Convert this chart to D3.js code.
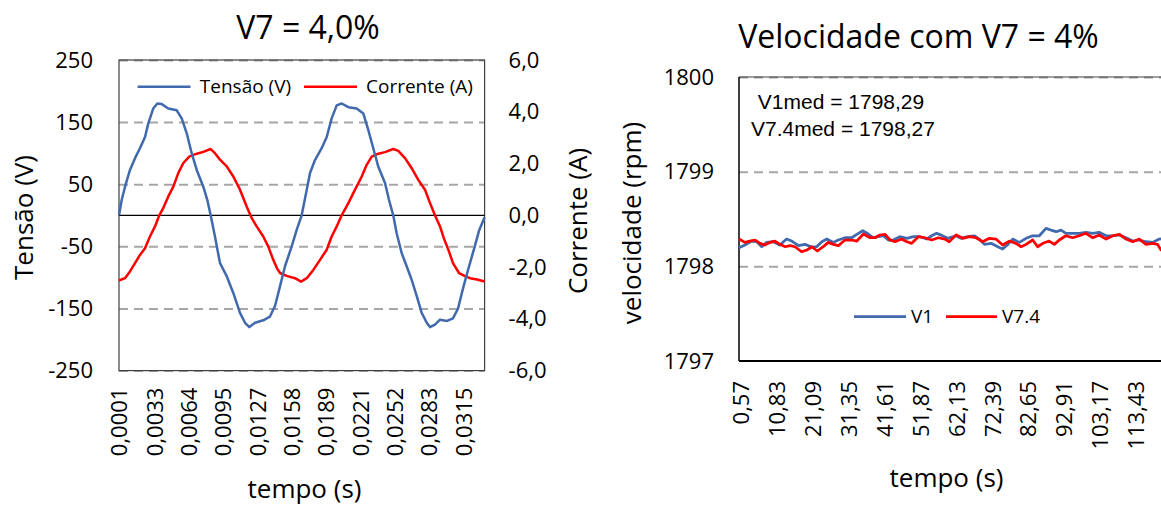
<!DOCTYPE html>
<html><head><meta charset="utf-8">
<script src="https://cdn.jsdelivr.net/npm/d3@7"></script>
<style>body{margin:0;background:#fff;overflow:hidden}svg{display:block;font-family:"Open Sans",sans-serif}</style>
</head><body>
<script>
// ---------- Left chart data (V7 = 4,0%) ----------
const tTensao = [0.00010,0.00035,0.00065,0.00110,0.00156,0.00201,0.00247,0.00277,0.00322,0.00359,0.00399,0.00459,0.00536,0.00581,0.00627,0.00672,0.00718,0.00778,0.00814,0.00845,0.00884,0.00930,0.00991,0.01051,0.01112,0.01158,0.01197,0.01249,0.01324,0.01385,0.01431,0.01477,0.01522,0.01583,0.01629,0.01674,0.01720,0.01750,0.01795,0.01856,0.01902,0.01947,0.01993,0.02038,0.02099,0.02175,0.02235,0.02281,0.02326,0.02372,0.02433,0.02469,0.02508,0.02539,0.02585,0.02630,0.02676,0.02722,0.02767,0.02813,0.02843,0.02888,0.02934,0.02998,0.03052,0.03098,0.03143,0.03189,0.03244,0.03289,0.03340];
const tensao = [0,25,46,73,92,108,126,148,172,180,179,172,169,156,132,100,73,46,25,0,-34,-77,-98,-125,-157,-173,-180,-173,-169,-163,-146,-114,-82,-50,-23,0,41,68,89,108,126,156,177,180,174,172,164,137,108,78,52,25,0,-29,-61,-82,-104,-130,-157,-173,-180,-176,-168,-170,-166,-150,-118,-88,-54,-25,-3];
const tCorrente = [0.00010,0.00065,0.00110,0.00156,0.00201,0.00247,0.00292,0.00338,0.00377,0.00413,0.00459,0.00505,0.00550,0.00596,0.00650,0.00718,0.00778,0.00845,0.00884,0.00930,0.00991,0.01051,0.01112,0.01173,0.01219,0.01264,0.01324,0.01370,0.01415,0.01449,0.01477,0.01537,0.01613,0.01668,0.01720,0.01780,0.01841,0.01902,0.01947,0.01993,0.02038,0.02099,0.02160,0.02221,0.02266,0.02312,0.02372,0.02433,0.02508,0.02554,0.02615,0.02676,0.02736,0.02797,0.02843,0.02888,0.02934,0.02970,0.03016,0.03052,0.03107,0.03162,0.03207,0.03271,0.03340];
const corrente = [-2.52,-2.43,-2.17,-1.85,-1.53,-1.27,-0.82,-0.43,0,0.28,0.73,1.11,1.63,2.02,2.27,2.38,2.45,2.56,2.40,2.15,1.89,1.50,0.99,0.34,-0.11,-0.43,-0.82,-1.21,-1.72,-2.05,-2.23,-2.34,-2.43,-2.56,-2.43,-2.11,-1.72,-1.33,-0.82,-0.43,0,0.47,0.99,1.50,1.95,2.27,2.38,2.44,2.56,2.49,2.21,1.82,1.37,0.99,0.47,0,-0.43,-0.90,-1.40,-1.85,-2.23,-2.35,-2.43,-2.48,-2.56];
const tickTempoL = [0.0001,0.0033,0.0064,0.0095,0.0127,0.0158,0.0189,0.0221,0.0252,0.0283,0.0315];
const tickTensao = [-250,-150,-50,50,150,250];
const tickCorrente = [-6,-4,-2,0,2,4,6];

// ---------- Right chart data (Velocidade) ----------
const tV1 = [0.0,1.7,3.6,5.1,6.5,7.9,9.8,11.7,13.6,15.1,17.0,18.9,20.8,22.2,23.7,25.1,27.0,28.4,30.3,32.2,33.7,35.4,37.0,38.4,39.8,41.3,42.7,44.1,46.0,48.0,49.9,51.8,53.7,55.1,56.5,58.0,59.7,62.1,63.5,65.4,67.3,68.7,70.2,72.1,74.0,75.4,76.9,78.3,80.2,82.1,84.0,85.9,87.8,89.2,90.7,92.1,93.5,95.4,97.3,99.2,101.2,103.0,105.0,106.9,108.8,110.7,112.6,114.5,116.4,118.3,120.2,122.1];
const v1 = [1798.196,1798.225,1798.267,1798.260,1798.207,1798.253,1798.260,1798.225,1798.288,1798.267,1798.218,1798.232,1798.204,1798.207,1798.260,1798.288,1798.253,1798.278,1798.302,1798.302,1798.338,1798.376,1798.341,1798.302,1798.313,1798.323,1798.278,1798.278,1798.313,1798.296,1798.313,1798.313,1798.288,1798.323,1798.349,1798.327,1798.296,1798.323,1798.296,1798.313,1798.323,1798.288,1798.232,1798.243,1798.207,1798.183,1798.232,1798.288,1798.253,1798.296,1798.323,1798.323,1798.401,1798.383,1798.366,1798.383,1798.349,1798.349,1798.349,1798.359,1798.349,1798.359,1798.323,1798.323,1798.331,1798.302,1798.267,1798.278,1798.260,1798.253,1798.288,1798.300];
const tV74 = [0.0,1.7,3.1,4.6,6.0,7.4,8.9,10.3,11.7,13.2,14.6,16.0,17.9,19.4,20.8,22.4,24.1,25.5,27.0,28.4,30.3,32.2,33.7,35.6,37.5,38.9,40.3,41.8,43.2,44.6,46.5,48.0,49.4,51.3,53.2,55.1,57.0,58.9,60.1,62.1,64.0,65.9,67.8,69.7,71.6,73.5,75.4,77.3,79.2,80.7,82.1,84.0,85.4,86.9,88.7,90.2,91.6,93.5,95.4,97.3,99.2,101.2,103.0,105.0,106.9,108.8,110.7,112.6,114.5,116.4,118.3,119.7,120.7,122.1];
const v74 = [1798.288,1798.253,1798.267,1798.278,1798.243,1798.225,1798.253,1798.267,1798.232,1798.207,1798.218,1798.207,1798.154,1798.172,1798.207,1798.162,1798.207,1798.253,1798.232,1798.218,1798.278,1798.278,1798.267,1798.341,1798.302,1798.302,1798.331,1798.338,1798.278,1798.260,1798.288,1798.260,1798.243,1798.313,1798.302,1798.278,1798.302,1798.288,1798.260,1798.331,1798.296,1798.313,1798.302,1798.260,1798.296,1798.288,1798.225,1798.267,1798.243,1798.207,1798.232,1798.278,1798.207,1798.243,1798.267,1798.232,1798.278,1798.323,1798.302,1798.323,1798.349,1798.302,1798.331,1798.288,1798.323,1798.338,1798.288,1798.260,1798.288,1798.232,1798.243,1798.232,1798.172,1798.150];
const tickTempoR = [0.57,10.83,21.09,31.35,41.61,51.87,62.13,72.39,82.65,92.91,103.17,113.43];
const tickVel = [1797,1798,1799,1800];

const BLUE = "#4169ae", RED = "#ff0000", GRID = "#a6a6a6";
const fmtComma = d => String(d).replace('.', ',');

const svg = d3.select("body").append("svg").attr("width", 1161).attr("height", 506);
svg.append("rect").attr("width",1161).attr("height",506).attr("fill","#fff");

// ================= LEFT CHART =================
const L = {x0:119, x1:484.6, y0:60, y1:370.6};
const xL = d3.scaleLinear().domain([0.0001, 0.0334]).range([L.x0, L.x1]);
const yV = d3.scaleLinear().domain([-250, 250]).range([L.y1, L.y0]);
const yI = d3.scaleLinear().domain([-6, 6]).range([L.y1, L.y0]);

const gL = svg.append("g");
gL.append("g").attr("transform", `translate(${L.x0},0)`)
  .call(d3.axisLeft(yV).tickValues(tickTensao).tickSize(-(L.x1-L.x0)).tickFormat(""))
  .call(g => g.select(".domain").remove())
  .call(g => g.selectAll("line").attr("stroke", GRID).attr("stroke-width", 2).attr("stroke-dasharray", "9,6"));
gL.append("rect").attr("x", L.x0).attr("y", L.y0).attr("width", L.x1-L.x0).attr("height", L.y1-L.y0)
  .attr("fill","none").attr("stroke","#404040").attr("stroke-width",1.2);
gL.append("line").attr("x1", L.x0).attr("x2", L.x1).attr("y1", yV(0)).attr("y2", yV(0)).attr("stroke","#000").attr("stroke-width",1.2);

gL.append("g").attr("transform", `translate(${L.x0},0)`)
  .call(d3.axisLeft(yV).tickValues(tickTensao).tickSize(0).tickPadding(26).tickFormat(d => String(d)))
  .call(g => g.select(".domain").remove())
  .call(g => g.selectAll("text").attr("font-size", 22).attr("fill","#000").attr("font-family","Open Sans"));
gL.append("g").attr("transform", `translate(${L.x1},0)`)
  .call(d3.axisRight(yI).tickValues(tickCorrente).tickSize(0).tickPadding(24).tickFormat(d => d.toFixed(1).replace('.', ',')))
  .call(g => g.select(".domain").remove())
  .call(g => g.selectAll("text").attr("font-size", 22).attr("fill","#000").attr("font-family","Open Sans"));
gL.append("g").attr("transform", `translate(0,${L.y1})`)
  .call(d3.axisBottom(xL).tickValues(tickTempoL).tickSize(0).tickFormat(fmtComma))
  .call(g => g.select(".domain").remove())
  .call(g => g.selectAll("text").attr("font-size", 22).attr("fill","#000").attr("font-family","Open Sans")
     .attr("transform","rotate(-90)").attr("text-anchor","end").attr("x",-17).attr("y",0).attr("dy","0.36em"));

const lineV = d3.line().x((d,i) => xL(tTensao[i])).y(d => yV(d));
const lineI = d3.line().x((d,i) => xL(tCorrente[i])).y(d => yI(d));
gL.append("path").datum(corrente).attr("d", lineI).attr("fill","none").attr("stroke",RED).attr("stroke-width",2.5).attr("stroke-linejoin","round");
gL.append("path").datum(tensao).attr("d", lineV).attr("fill","none").attr("stroke",BLUE).attr("stroke-width",2.5).attr("stroke-linejoin","round");

const legL = gL.append("g").attr("font-size",19).attr("font-family","Open Sans");
legL.append("line").attr("x1",137.6).attr("x2",190.5).attr("y1",86.7).attr("y2",86.7).attr("stroke",BLUE).attr("stroke-width",2.5);
legL.append("text").attr("x",199.8).attr("y",86.7).attr("dy","0.35em").text("Tensão (V)");
legL.append("line").attr("x1",304).attr("x2",357).attr("y1",86.7).attr("y2",86.7).attr("stroke",RED).attr("stroke-width",2.5);
legL.append("text").attr("x",366).attr("y",86.7).attr("dy","0.35em").text("Corrente (A)");

gL.append("text").attr("x",308).attr("y",38.5).attr("text-anchor","middle").attr("font-size",32).text("V7 = 4,0%");
gL.append("text").attr("x",304.5).attr("y",498).attr("text-anchor","middle").attr("font-size",26).text("tempo (s)");
gL.append("text").attr("transform","translate(33,217.5) rotate(-90)").attr("text-anchor","middle").attr("font-size",26).text("Tensão (V)");
gL.append("text").attr("transform","translate(587,221) rotate(-90)").attr("text-anchor","middle").attr("font-size",26).text("Corrente (A)");

// ================= RIGHT CHART =================
const R = {x0:739, x1:1175, y0:77, y1:361};
const xR = d3.scaleLinear().domain([0, (R.x1-R.x0)/3.4964]).range([R.x0, R.x1]);
const yR = d3.scaleLinear().domain([1797, 1800]).range([R.y1, R.y0]);
const gR = svg.append("g");
gR.append("g").attr("transform", `translate(${R.x0},0)`)
  .call(d3.axisLeft(yR).tickValues([1798,1799,1800]).tickSize(-(R.x1-R.x0)).tickFormat(""))
  .call(g => g.select(".domain").remove())
  .call(g => g.selectAll("line").attr("stroke", GRID).attr("stroke-width", 2).attr("stroke-dasharray", "9,6"));
gR.append("line").attr("x1",R.x0).attr("x2",R.x1).attr("y1",R.y0).attr("y2",R.y0).attr("stroke","#404040").attr("stroke-width",1);
gR.append("line").attr("x1",R.x0).attr("x2",R.x0).attr("y1",R.y0).attr("y2",R.y1).attr("stroke","#000").attr("stroke-width",1.5);
gR.append("line").attr("x1",R.x0).attr("x2",R.x1).attr("y1",R.y1).attr("y2",R.y1).attr("stroke","#000").attr("stroke-width",2);

gR.append("g").attr("transform", `translate(${R.x0},0)`)
  .call(d3.axisLeft(yR).tickValues(tickVel).tickSize(0).tickPadding(25).tickFormat(d => String(d)))
  .call(g => g.select(".domain").remove())
  .call(g => g.selectAll("text").attr("font-size", 22).attr("fill","#000").attr("font-family","Open Sans"));
gR.append("g").attr("transform", `translate(0,${R.y1})`)
  .call(d3.axisBottom(xR).tickValues(tickTempoR).tickSize(0).tickFormat(d => d.toFixed(2).replace('.', ',')))
  .call(g => g.select(".domain").remove())
  .call(g => g.selectAll("text").attr("font-size", 22).attr("fill","#000").attr("font-family","Open Sans")
     .attr("transform","rotate(-90)").attr("text-anchor","end").attr("x",-20).attr("y",0).attr("dy","0.36em"));

const line1 = d3.line().x((d,i) => xR(tV1[i])).y(d => yR(d));
const line74 = d3.line().x((d,i) => xR(tV74[i])).y(d => yR(d));
gR.append("path").datum(v1).attr("d", line1).attr("fill","none").attr("stroke",BLUE).attr("stroke-width",2.75).attr("stroke-linejoin","round");
gR.append("path").datum(v74).attr("d", line74).attr("fill","none").attr("stroke",RED).attr("stroke-width",2.75).attr("stroke-linejoin","round");

const ann = gR.append("g").attr("font-family","Liberation Sans, Arial, sans-serif").attr("font-size",21);
ann.append("text").attr("x",757.8).attr("y",109).text("V1med = 1798,29");
ann.append("text").attr("x",751).attr("y",135.5).text("V7.4med = 1798,27");

const legR = gR.append("g").attr("font-size",19).attr("font-family","Open Sans");
legR.append("line").attr("x1",854).attr("x2",906).attr("y1",316.7).attr("y2",316.7).attr("stroke",BLUE).attr("stroke-width",2.75);
legR.append("text").attr("x",911).attr("y",316.7).attr("dy","0.35em").text("V1");
legR.append("line").attr("x1",946).attr("x2",997).attr("y1",316.7).attr("y2",316.7).attr("stroke",RED).attr("stroke-width",2.75);
legR.append("text").attr("x",1002).attr("y",316.7).attr("dy","0.35em").text("V7.4");

gR.append("text").attr("x",918.5).attr("y",48.3).attr("text-anchor","middle").attr("font-size",32).text("Velocidade com V7 = 4%");
gR.append("text").attr("x",946.5).attr("y",487).attr("text-anchor","middle").attr("font-size",26).text("tempo (s)");
gR.append("text").attr("transform","translate(641,223) rotate(-90)").attr("text-anchor","middle").attr("font-size",26).text("velocidade (rpm)");
</script>
</body></html>
